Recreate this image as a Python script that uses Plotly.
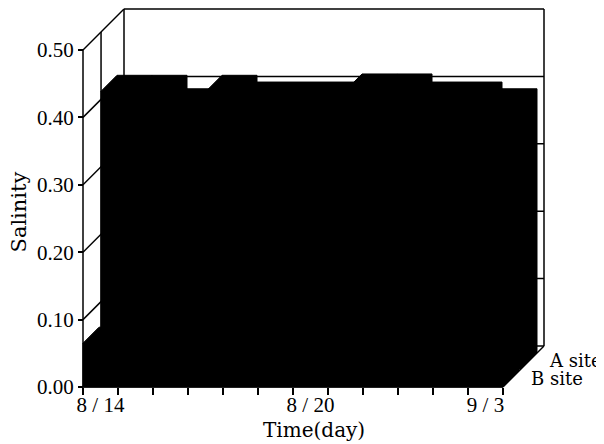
import plotly.graph_objects as go

# ---------------- data ----------------
categories = ["8/14", "", "", "", "", "", "8/20", "", "", "", "", "9/3"]
tick_index = [0, 6, 11]
tick_labels = ["8 / 14", "8 / 20", "9 / 3"]
a_site = [0.412, 0.412, 0.392, 0.412, 0.402, 0.402, 0.402, 0.414, 0.414, 0.402, 0.402, 0.392]
b_site = [0.065, 0.405, 0.390, 0.405, 0.400, 0.400, 0.400, 0.410, 0.410, 0.400, 0.400, 0.390]
series_names = ["A site", "B site"]
y_ticks = [0.0, 0.1, 0.2, 0.3, 0.4, 0.5]
y_tick_text = ["0.00", "0.10", "0.20", "0.30", "0.40", "0.50"]

# ---------------- geometry (oblique 3-D look) ----------------
# page body has an 8px margin, so the figure is drawn 8px smaller
W, H = 596, 436
L, R, T, B = 72, 56, 0, 54
plot_w = W - L - R
plot_h = H - T - B
ax_off = 3.0          # px gap between subplot edge and front axes
px_cat = 35.0         # px per category
px_val = 674.0        # px per salinity unit
depth_px = 41.0
DX = depth_px / px_cat
DY = depth_px / px_val
n = len(categories)
ymax = y_ticks[-1]
row_depth = {"A site": (18 / 41, 34 / 41), "B site": (0.0, 16 / 41)}
wall_divider = 0.44

xr = [-ax_off / px_cat, (plot_w - ax_off) / px_cat]
yr = [-ax_off / px_val, (plot_h - ax_off) / px_val]

fig = go.Figure()

# ---------------- walls / grid ----------------
segs = []
def seg(x0, y0, x1, y1):
    segs.append(((x0, y0), (x1, y1)))

seg(0, 0, 0, ymax)                       # front value axis
seg(0, 0, n, 0)                          # front category axis
seg(0, ymax, DX, ymax + DY)              # left wall top
seg(DX, ymax + DY, n + DX, ymax + DY)    # back wall top
seg(n + DX, DY, n + DX, ymax + DY)       # back wall right edge
seg(DX, DY, DX, ymax + DY)               # back wall left edge
seg(n, 0, n + DX, DY)                    # floor right edge
seg(DX, DY, n + DX, DY)                  # floor back edge
seg(wall_divider * DX, wall_divider * DY, wall_divider * DX, ymax + wall_divider * DY)
for v in y_ticks[1:-1]:
    seg(0, v, DX, v + DY)
    seg(DX, v + DY, n + DX, v + DY)

xs, ys = [], []
for (a, b) in segs:
    xs += [a[0], b[0], None]
    ys += [a[1], b[1], None]
fig.add_trace(go.Scatter(x=xs, y=ys, mode="lines",
                         line=dict(color="black", width=1.5),
                         hoverinfo="skip", showlegend=False))

# ---------------- bars ----------------
def box(i, h, d1, d2):
    x0, x1 = i, i + 1
    o1x, o1y = d1 * DX, d1 * DY
    o2x, o2y = d2 * DX, d2 * DY
    bx = [x0 + o1x, x1 + o1x, x1 + o2x, x1 + o2x, x0 + o2x, x0 + o1x, x0 + o1x]
    by = [o1y, o1y, o2y, h + o2y, h + o2y, h + o1y, o1y]
    return bx, by

for name, vals in (("A site", a_site), ("B site", b_site)):
    d1, d2 = row_depth[name]
    for i, v in enumerate(vals):
        bx, by = box(i, v, d1, d2)
        fig.add_trace(go.Scatter(x=bx, y=by, mode="lines", fill="toself",
                                 fillcolor="black",
                                 line=dict(color="black", width=1),
                                 hoverinfo="skip", showlegend=False))

# ---------------- text ----------------
word_font = dict(family="DejaVu Serif", size=20, color="black")
ylab_font = dict(family="DejaVu Serif", size=21, color="black")
site_font = dict(family="DejaVu Serif", size=18, color="black")
num_font = dict(family="Liberation Serif", size=21, color="black")

annotations = [
    dict(text="Time(day)", x=n / 2 + DX / 2, y=0, xref="x", yref="y",
         yshift=-43, showarrow=False, font=word_font, xanchor="center", yanchor="middle"),
    dict(text="Salinity", x=0, y=ymax / 2, xref="x", yref="y",
         xshift=-65, yshift=6, textangle=-90, showarrow=False, font=ylab_font,
         xanchor="center", yanchor="middle"),
]
for name in series_names:
    d1, d2 = row_depth[name]
    dc = (d1 + d2) / 2
    annotations.append(dict(text=name, x=n + dc * DX, y=dc * DY, xref="x", yref="y",
                            xshift=18, yshift=1, showarrow=False, font=site_font,
                            xanchor="left", yanchor="middle"))

fig.update_layout(
    width=W, height=H,
    margin=dict(l=L, r=R, t=T, b=B, pad=0),
    paper_bgcolor="white", plot_bgcolor="white",
    showlegend=False,
    annotations=annotations,
    xaxis=dict(range=xr, showgrid=False, zeroline=False, showline=False,
               anchor="free", position=ax_off / plot_h,
               tickmode="array", tickvals=[i + 0.5 for i in tick_index],
               ticktext=tick_labels, ticks="", tickfont=num_font,
               ticklabelstandoff=3,
               minor=dict(tickmode="array", tickvals=list(range(n + 1)),
                          ticks="outside", ticklen=7, tickwidth=1.5,
                          tickcolor="black", showgrid=False),
               fixedrange=True),
    yaxis=dict(range=yr, showgrid=False, zeroline=False, showline=False,
               anchor="free", position=ax_off / plot_w,
               tickmode="array", tickvals=y_ticks, ticktext=y_tick_text,
               ticks="outside", ticklen=5, tickwidth=1.5, tickcolor="black",
               tickfont=num_font, fixedrange=True),
)

fig.write_html("out.html")
